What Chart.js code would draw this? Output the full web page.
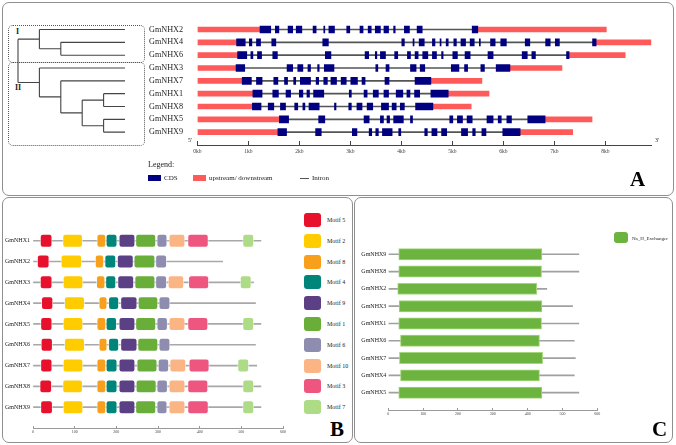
<!DOCTYPE html>
<html>
<head>
<meta charset="utf-8">
<script src="https://cdn.jsdelivr.net/npm/chart.js@4.4.1/dist/chart.umd.min.js"></script>
<style>
  body { margin: 0; background: #fff; }
  #page { position: relative; width: 676px; height: 445px; overflow: hidden; font-family: "Liberation Serif", "DejaVu Serif", serif; color: #222; }
  .panel { position: absolute; border: 1px solid #8f8f8f; border-radius: 7px; box-sizing: border-box; }
  .dots { position: absolute; border: 1px dotted #555; border-radius: 5px; box-sizing: border-box; }
  canvas { position: absolute; }
  .txt { position: absolute; white-space: nowrap; line-height: 1; }
  .big { font-weight: bold; font-size: 21px; color: #000; }
  .key { position: absolute; border-radius: 3px; }
</style>
</head>
<body>
<div id="page">
  <div class="panel" style="left:2px;top:2px;width:672px;height:194px"></div>
  <div class="panel" style="left:2px;top:197px;width:351px;height:246px"></div>
  <div class="panel" style="left:354px;top:197px;width:319px;height:246px"></div>

  <div class="dots" style="left:8px;top:25px;width:137px;height:38px"></div>
  <div class="dots" style="left:8px;top:62px;width:137px;height:84px"></div>
  <div class="txt" style="left:16px;top:28px;font-size:8px;font-weight:bold">I</div>
  <div class="txt" style="left:15px;top:84px;font-size:8px;font-weight:bold">II</div>

  <canvas id="tree" width="148" height="195" style="left:0;top:0"></canvas>
  <canvas id="genes" width="676" height="195" style="left:0;top:0"></canvas>
  <canvas id="motifs" width="296" height="245" style="left:2px;top:197px"></canvas>
  <canvas id="domains" width="319" height="245" style="left:354px;top:197px"></canvas>

  <div class="txt" style="left:188px;top:137px;font-size:6px">5'</div>
  <div class="txt" style="left:655px;top:137px;font-size:6px">3'</div>

  <div class="txt" style="left:148px;top:161px;font-size:8px">Legend:</div>
  <div class="key" style="left:148px;top:175px;width:13px;height:6px;background:#000080;border-radius:0"></div>
  <div class="txt" style="left:164px;top:174.5px;font-size:7px">CDS</div>
  <div class="key" style="left:193px;top:175px;width:13px;height:6px;background:#ff5a5a;border-radius:0"></div>
  <div class="txt" style="left:209px;top:174.5px;font-size:7px">upstream/ downstream</div>
  <div class="key" style="left:300px;top:178px;width:9px;height:1px;background:#555;border-radius:0"></div>
  <div class="txt" style="left:312px;top:174.5px;font-size:7px">Intron</div>
  <div class="txt big" style="left:630px;top:169px">A</div>

  <div id="motifKey"></div>
  <div class="txt big" style="left:330px;top:419px">B</div>

  <div class="key" style="left:614px;top:232px;width:14px;height:11px;background:#6db33f"></div>
  <div class="txt" style="left:632px;top:235.5px;font-size:5px">Na_H_Exchanger</div>
  <div class="txt big" style="left:652px;top:419px">C</div>
</div>
<script>
// ---------- panel A: gene structure (kb) ----------
const genesA = ['GmNHX2', 'GmNHX4', 'GmNHX6', 'GmNHX3', 'GmNHX7', 'GmNHX1', 'GmNHX8', 'GmNHX5', 'GmNHX9'];
const utr5End = [1.23, 0.77, 0.79, 0.76, 0.88, 1.09, 1.08, 1.61, 1.58];
const utr3 = [[5.50, 8.02], [7.82, 8.91], [7.29, 8.39], [6.13, 7.15], [4.58, 5.58], [4.92, 5.72], [4.62, 5.37], [6.82, 7.74], [6.33, 7.36]];

const cdsNHX2 = [[1.23,1.44],[1.53,1.60],[1.78,1.87],[1.94,2.05],[2.27,2.33],[2.48,2.50],[2.58,2.69],[2.93,2.99],[3.19,3.25],[3.35,3.41],[3.49,3.59],[3.66,3.75],[3.85,3.88],[4.06,4.16],[4.31,4.41],[5.39,5.50]];
const cdsNHX4 = [[0.77,0.94],[1.02,1.07],[1.16,1.24],[1.46,1.54],[2.46,2.57],[4.01,4.06],[4.23,4.25],[4.35,4.45],[4.61,4.66],[4.76,4.78],[4.88,4.92],[5.03,5.08],[5.17,5.26],[5.35,5.43],[5.53,5.55],[5.75,5.84],[5.95,6.06],[6.43,6.52],[6.83,6.92],[7.02,7.10],[7.75,7.82]];
const cdsNHX6 = [[0.79,0.97],[1.05,1.09],[1.18,1.26],[1.48,1.57],[2.51,2.62],[3.29,3.36],[3.49,3.52],[3.59,3.69],[3.87,3.93],[4.12,4.18],[4.27,4.33],[4.42,4.52],[4.61,4.69],[4.79,4.82],[5.01,5.10],[5.25,5.35],[5.70,5.80],[6.37,6.47],[6.56,6.63],[7.24,7.29]];
const cdsNHX3 = [[0.76,0.93],[1.76,1.87],[1.97,2.07],[2.17,2.22],[2.36,2.39],[2.49,2.68],[3.50,3.54],[3.70,3.76],[4.18,4.29],[4.37,4.46],[4.98,5.13],[5.24,5.30],[5.56,5.63],[5.86,6.13]];
const cdsNHX7 = [[0.88,1.06],[1.16,1.27],[1.50,1.58],[1.71,1.77],[1.89,1.93],[2.02,2.22],[2.33,2.38],[2.48,2.55],[2.62,2.73],[2.82,2.92],[3.01,3.14],[3.23,3.29],[3.68,3.76],[4.27,4.58]];
const cdsNHX1 = [[1.09,1.27],[1.48,1.59],[1.74,1.83],[2.00,2.07],[2.15,2.20],[2.28,2.48],[2.98,3.02],[3.27,3.33],[3.45,3.55],[3.66,3.75],[3.90,4.03],[4.11,4.17],[4.26,4.36],[4.58,4.92]];
const cdsNHX8 = [[1.08,1.25],[1.39,1.50],[1.63,1.73],[1.91,1.97],[2.07,2.11],[2.19,2.39],[2.69,2.72],[2.97,3.02],[3.13,3.23],[3.33,3.44],[3.61,3.75],[3.82,3.90],[3.98,4.06],[4.28,4.62]];
const cdsNHX5 = [[1.61,1.79],[2.38,2.50],[3.27,3.37],[3.59,3.65],[3.72,3.77],[3.85,4.04],[4.18,4.22],[4.95,5.01],[5.10,5.20],[5.29,5.39],[5.68,5.80],[5.90,5.96],[6.07,6.16],[6.48,6.82]];
const cdsNHX9 = [[1.58,1.75],[2.32,2.43],[3.04,3.13],[3.37,3.42],[3.50,3.55],[3.63,3.82],[3.95,3.99],[4.46,4.51],[4.60,4.70],[4.79,4.89],[5.18,5.30],[5.40,5.45],[5.58,5.66],[5.99,6.33]];
const cdsByGene = [cdsNHX2, cdsNHX4, cdsNHX6, cdsNHX3, cdsNHX7, cdsNHX1, cdsNHX8, cdsNHX5, cdsNHX9];
const kbTicks = [0, 1, 2, 3, 4, 5, 6, 7, 8];

// tree topology (same leaf order as genesA)
const tree = [['GmNHX2', ['GmNHX4', 'GmNHX6']], ['GmNHX3', ['GmNHX7', [['GmNHX1', 'GmNHX8'], ['GmNHX5', 'GmNHX9']]]]];
const leafDepth = 5;

// ---------- panel B: motifs (aa) ----------
const genesB = ['GmNHX1', 'GmNHX2', 'GmNHX3', 'GmNHX4', 'GmNHX5', 'GmNHX6', 'GmNHX7', 'GmNHX8', 'GmNHX9'];
const proteinLen = [547, 455, 529, 534, 547, 534, 537, 547, 547];
const motifNames = ['Motif 5', 'Motif 2', 'Motif 8', 'Motif 4', 'Motif 9', 'Motif 1', 'Motif 6', 'Motif 10', 'Motif 3', 'Motif 7'];
const motifColors = ['#e8112d', '#ffcc00', '#f8a01c', '#00857a', '#5c4085', '#6aae3a', '#8f8daf', '#fbb584', '#ee5680', '#addb86'];
const motif5 = [[17,46],[10,39],[17,46],[20,48],[18,46],[19,47],[18,46],[16,45],[18,47]];
const motif2 = [[71,119],[67,117],[72,120],[75,124],[72,120],[75,124],[72,120],[71,119],[72,120]];
const motif8 = [[153,175],[149,170],[152,173],[158,178],[153,175],[158,178],[153,175],[153,175],[153,175]];
const motif4 = [[175,202],[172,199],[174,199],[181,206],[175,201],[181,206],[175,202],[175,202],[175,202]];
const motif9 = [[206,245],[202,241],[203,242],[210,250],[206,245],[210,250],[206,245],[206,245],[206,245]];
const motif1 = [[246,295],[242,293],[244,293],[252,300],[246,295],[251,300],[249,298],[247,296],[246,295]];
const motif6 = [[297,322],[294,321],[294,321],[302,329],[297,323],[302,329],[300,326],[297,323],[297,322]];
const motif10 = [[326,365],null,[324,362],null,[326,365],null,[328,367],[326,365],[326,365]];
const motif3 = [[371,421],null,[373,422],null,[371,420],null,[374,423],[371,420],[371,421]];
const motif7 = [[503,530],null,[497,524],null,[503,530],null,[491,518],[503,530],[503,530]];
const motifSites = [motif5, motif2, motif8, motif4, motif9, motif1, motif6, motif10, motif3, motif7];
const aaTicks = [0, 100, 200, 300, 400, 500, 600];

// ---------- panel C: Na_H_Exchanger domain (aa) ----------
const genesC = ['GmNHX9', 'GmNHX8', 'GmNHX2', 'GmNHX3', 'GmNHX1', 'GmNHX6', 'GmNHX7', 'GmNHX4', 'GmNHX5'];
const domainSpan = [[30,441],[30,440],[27,426],[31,441],[30,440],[35,434],[32,443],[35,434],[30,441]];

const serif = 'Liberation Serif';
const base = {
  indexAxis: 'y', responsive: false, animation: false, events: [],
  plugins: { legend: { display: false }, tooltip: { enabled: false } }
};

function rowAxis(names, width, size, far, pad) {
  return {
    type: 'linear', min: -0.5, max: 9, reverse: true, offset: false,
    grid: { display: false, drawTicks: false, offset: false }, border: { display: false },
    afterBuildTicks: s => { s.ticks = names.map((n, i) => ({ value: i })); },
    afterFit: s => { s.width = width; },
    ticks: { crossAlign: far ? 'far' : 'near', padding: pad, color: '#222', autoSkip: false,
             font: { family: serif, size: size }, callback: v => names[v] }
  };
}
function valueAxis(min, max, ticks, fmt, size, color, tl, pad) {
  return {
    type: 'linear', min: min, max: max,
    grid: { drawOnChartArea: false, color: color, tickLength: tl },
    border: { color: color },
    afterBuildTicks: s => { s.ticks = ticks.map(v => ({ value: v })); },
    afterFit: s => { s.height = 14; },
    ticks: { padding: pad, color: '#444', maxRotation: 0, autoSkip: false,
             font: { family: serif, size: size }, callback: fmt }
  };
}

// gene structure chart
const cdsData = [], utrData = [], intronData = [];
genesA.forEach((g, i) => {
  cdsByGene[i].forEach(e => cdsData.push({ y: i, x: e }));
  utrData.push({ y: i, x: [0, utr5End[i]] }, { y: i, x: utr3[i] });
  intronData.push({ y: i, x: [utr5End[i], utr3[i][0]] });
});
new Chart(document.getElementById('genes'), {
  type: 'bar',
  data: { datasets: [
    { label: 'CDS', data: cdsData, backgroundColor: '#000080', barThickness: 7, grouped: false },
    { label: 'upstream/ downstream', data: utrData, backgroundColor: '#ff5a5a', barThickness: 5, grouped: false },
    { label: 'Intron', data: intronData, backgroundColor: '#555', barThickness: 1, grouped: false }
  ] },
  options: Object.assign({}, base, {
    layout: { padding: { left: 149, right: 24.8, top: 23.1, bottom: 36 } },
    scales: {
      x: valueAxis(0, 8.9, kbTicks, v => v + 'kb', 5.5, '#444', -4, 7),
      y: rowAxis(genesA, 48.3, 8.2, true, 0)
    }
  })
});

// phylogenetic tree
const treeLines = [];
function walk(node, depth) {
  if (typeof node === 'string') return genesA.indexOf(node);
  const ys = node.map(c => walk(c, depth + 1));
  node.forEach((c, k) => {
    const end = typeof c === 'string' ? leafDepth : depth + 1;
    treeLines.push({ x: depth, y: ys[k] }, { x: end, y: ys[k] }, { x: null, y: null });
  });
  const lo = Math.min(...ys), hi = Math.max(...ys);
  treeLines.push({ x: depth, y: lo }, { x: depth, y: hi }, { x: null, y: null });
  return (lo + hi) / 2;
}
walk(tree, 0);
new Chart(document.getElementById('tree'), {
  type: 'scatter',
  data: { datasets: [{ data: treeLines, showLine: true, spanGaps: false, borderColor: '#444',
                       borderWidth: 1.1, pointRadius: 0, clip: false }] },
  options: {
    responsive: false, animation: false, events: [],
    plugins: { legend: { display: false }, tooltip: { enabled: false } },
    layout: { padding: { left: 18, right: 23, top: 23.1, bottom: 50 } },
    scales: {
      x: { type: 'linear', min: 0, max: leafDepth, display: false },
      y: { type: 'linear', min: -0.5, max: 9, reverse: true, display: false }
    }
  }
});

// motif chart
const motifSets = motifNames.map((m, k) => ({
  label: m,
  data: motifSites[k].map((s, i) => s ? { y: i, x: s } : null).filter(Boolean),
  backgroundColor: motifColors[k], borderColor: 'rgba(255,255,255,0.55)', borderWidth: 1,
  borderSkipped: false, borderRadius: 3, barThickness: 13.3, grouped: false
}));
motifSets.push({ label: 'protein', data: genesB.map((g, i) => ({ y: i, x: [0, proteinLen[i]] })),
                 backgroundColor: '#a8a8a8', barThickness: 1, grouped: false });
new Chart(document.getElementById('motifs'), {
  type: 'bar',
  data: { datasets: motifSets },
  options: Object.assign({}, base, {
    layout: { padding: { left: 0, right: 15, top: 33.3, bottom: 0 } },
    scales: {
      x: Object.assign(valueAxis(0, 600, aaTicks, v => v, 4, '#999', -2, 4), { afterFit: s => { s.height = 14; } }),
      y: rowAxis(genesB, 31, 6, false, 3)
    }
  })
});

// legend for motifs
const key = document.getElementById('motifKey');
motifNames.forEach((m, k) => {
  const cy = 220 + k * 20.8;
  key.insertAdjacentHTML('beforeend',
    '<div class="key" style="left:304px;top:' + (cy - 7) + 'px;width:17px;height:14px;background:' + motifColors[k] + '"></div>' +
    '<div class="txt" style="left:327px;top:' + (cy - 3) + 'px;font-size:6px">' + m + '</div>');
});

// domain chart
new Chart(document.getElementById('domains'), {
  type: 'bar',
  data: { datasets: [
    { label: 'Na_H_Exchanger', data: genesC.map((g, i) => ({ y: i, x: domainSpan[i] })),
      backgroundColor: '#6db33f', borderColor: '#a5d67c', borderWidth: 1, borderSkipped: false,
      barThickness: 11.3, grouped: false },
    { label: 'protein', data: genesC.map((g, i) => ({ y: i, x: [0, proteinLen[genesB.indexOf(g)]] })),
      backgroundColor: '#a0a0a0', barThickness: 1, grouped: false }
  ] },
  options: Object.assign({}, base, {
    layout: { padding: { left: 0, right: 75.7, top: 48.6, bottom: 22 } },
    scales: {
      x: Object.assign(valueAxis(0, 600, aaTicks, v => v, 4, '#999', -2, 4), { afterFit: s => { s.height = 10; } }),
      y: rowAxis(genesC, 34.3, 6, false, 2)
    }
  })
});
</script>
</body>
</html>
